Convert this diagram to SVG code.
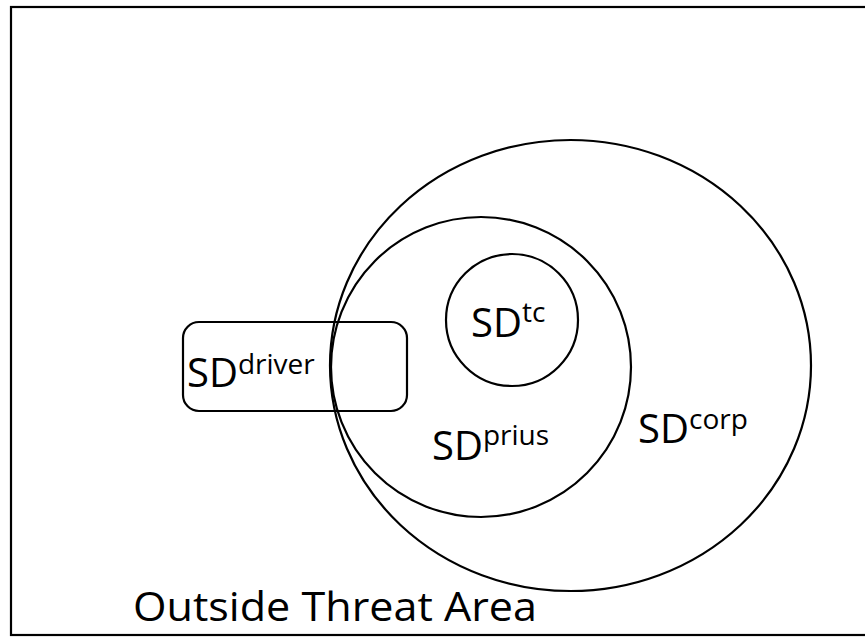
<svg xmlns="http://www.w3.org/2000/svg" width="865" height="639" viewBox="0 0 865 639">
<style>
.shape{fill:none;stroke:#000;stroke-width:2.2}
.lbl{font-family:"Open Sans","Liberation Sans",sans-serif;font-size:40px;fill:#000}
.sup{font-size:28px}
</style>
<rect width="865" height="639" fill="#fff"/>
<g id="outside">
<rect x="11" y="7" width="870" height="628" class="shape" stroke-width="2.6"/>
<text class="lbl" x="133" y="621" font-size="43" textLength="404" lengthAdjust="spacingAndGlyphs">Outside Threat Area</text>
</g>
<g id="corp">
<ellipse cx="570.5" cy="365.5" rx="240.5" ry="225.5" class="shape"/>
<text class="lbl" x="638" y="443">SD<tspan class="sup" dy="-14">corp</tspan></text>
</g>
<g id="prius">
<circle cx="481" cy="367" r="150" class="shape" stroke-width="2.5"/>
<text class="lbl" x="432" y="460">SD<tspan class="sup" dy="-15">prius</tspan></text>
</g>
<g id="tc">
<circle cx="512" cy="320" r="66" class="shape"/>
<text class="lbl" x="471" y="337">SD<tspan class="sup" dy="-15">tc</tspan></text>
</g>
<g id="driver">
<rect x="183" y="322" width="224" height="89" rx="16" class="shape"/>
<text class="lbl" x="187" y="387">SD<tspan class="sup" dy="-13">driver</tspan></text>
</g>
<g id="connectors"/>
</svg>
